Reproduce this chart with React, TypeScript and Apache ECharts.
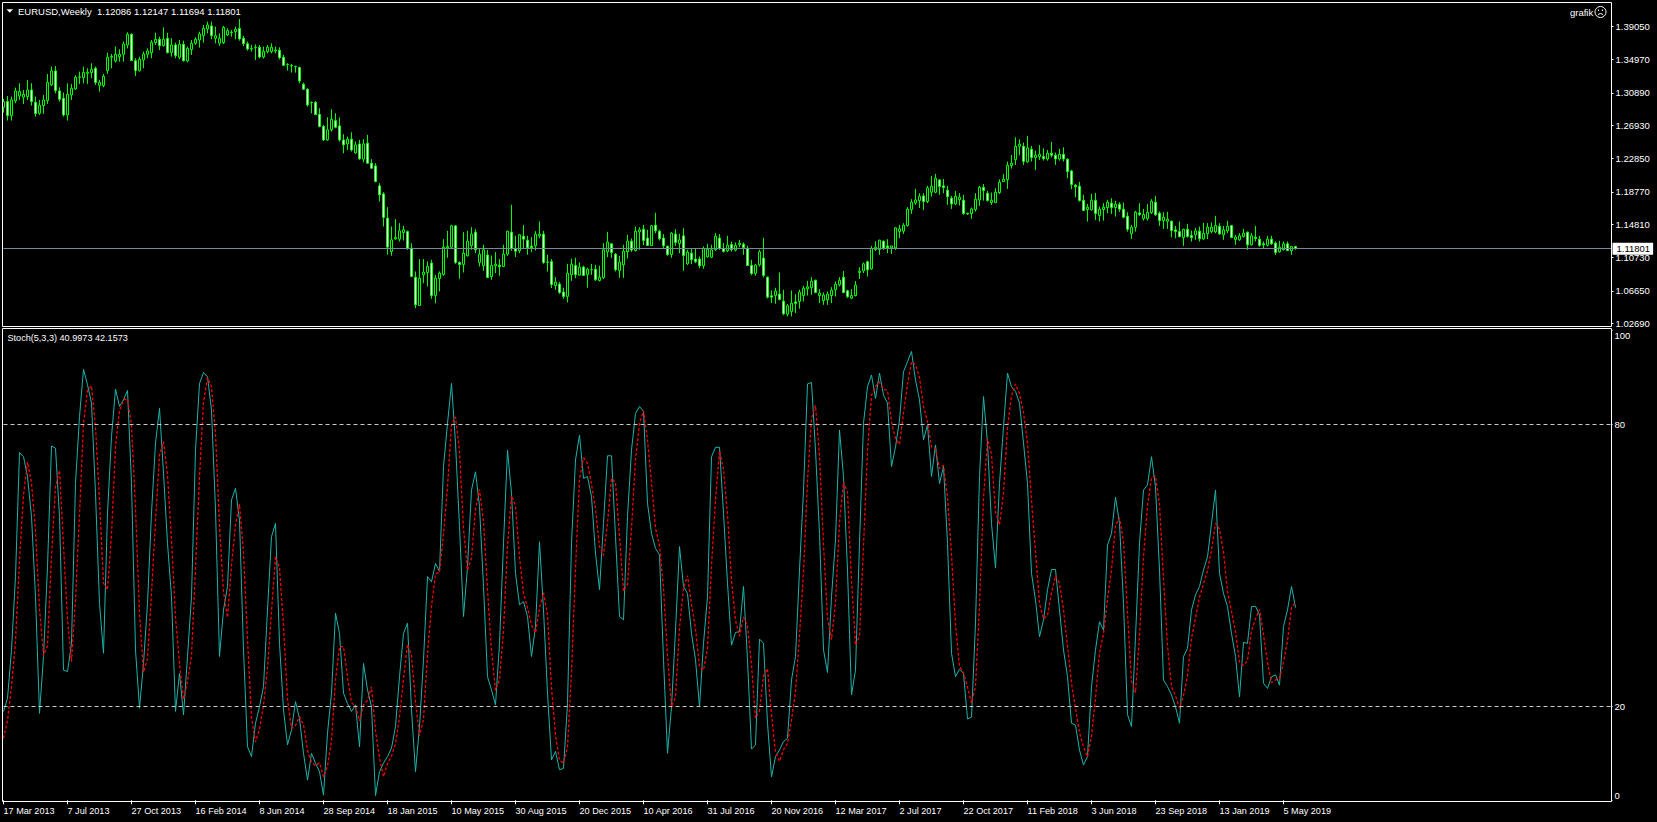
import React, { useEffect, useRef } from "react";
import * as echarts from "echarts";

// Weekly bars as [open, close, low, high]
const weeklyBars: number[][] = [
[1.2913,1.2983,1.2848,1.3015],[1.2983,1.2811,1.2750,1.3052],[1.2811,1.3003,1.2750,1.3044],[1.2991,1.3113,1.2962,1.3154],[1.3052,1.3105,1.3003,1.3207],[1.3036,1.3072,1.2954,1.3125],[1.3044,1.3125,1.3003,1.3248],[1.3125,1.2983,1.2934,1.3207],
[1.2974,1.2836,1.2799,1.3044],[1.2840,1.2938,1.2819,1.3003],[1.2934,1.3003,1.2832,1.3064],[1.2995,1.3219,1.2954,1.3321],[1.3187,1.3358,1.3174,1.3411],[1.3358,1.3117,1.3085,1.3419],[1.3113,1.3011,1.2983,1.3158],[1.3023,1.2819,1.2799,1.3093],
[1.2819,1.3072,1.2750,1.3207],[1.3064,1.3146,1.3003,1.3199],[1.3138,1.3280,1.3125,1.3305],[1.3281,1.3285,1.3199,1.3350],[1.3276,1.3338,1.3207,1.3411],[1.3329,1.3342,1.3199,1.3391],[1.3338,1.3378,1.3268,1.3452],[1.3391,1.3215,1.3187,1.3411],
[1.3183,1.3219,1.3105,1.3248],[1.3178,1.3293,1.3158,1.3321],[1.3362,1.3525,1.3321,1.3582],[1.3525,1.3537,1.3391,1.3566],[1.3480,1.3562,1.3460,1.3656],[1.3533,1.3562,1.3472,1.3623],[1.3562,1.3688,1.3472,1.3717],[1.3676,1.3807,1.3635,1.3831],
[1.3807,1.3484,1.3480,1.3819],[1.3484,1.3362,1.3297,1.3513],[1.3362,1.3501,1.3350,1.3533],[1.3493,1.3566,1.3391,1.3595],[1.3562,1.3603,1.3513,1.3635],[1.3582,1.3709,1.3513,1.3737],[1.3705,1.3746,1.3676,1.3827],[1.3746,1.3668,1.3615,1.3778],
[1.3668,1.3746,1.3656,1.3892],[1.3758,1.3582,1.3574,1.3827],[1.3586,1.3676,1.3533,1.3758],[1.3676,1.3546,1.3513,1.3705],[1.3525,1.3684,1.3501,1.3737],[1.3684,1.3484,1.3472,1.3729],[1.3480,1.3635,1.3464,1.3656],[1.3619,1.3697,1.3554,1.3737],
[1.3697,1.3746,1.3676,1.3770],[1.3737,1.3811,1.3644,1.3839],[1.3790,1.3880,1.3705,1.3921],[1.3872,1.3921,1.3819,1.3962],[1.3909,1.3790,1.3746,1.3962],[1.3758,1.3790,1.3697,1.3901],[1.3697,1.3758,1.3664,1.3819],[1.3705,1.3892,1.3688,1.3909],
[1.3799,1.3852,1.3786,1.3880],[1.3829,1.3833,1.3778,1.3860],[1.3839,1.3868,1.3746,1.3901],[1.3880,1.3750,1.3729,1.3994],[1.3758,1.3692,1.3664,1.3786],[1.3692,1.3627,1.3607,1.3717],[1.3631,1.3627,1.3595,1.3676],[1.3648,1.3644,1.3493,1.3684],
[1.3648,1.3529,1.3513,1.3676],[1.3529,1.3599,1.3509,1.3656],[1.3595,1.3648,1.3574,1.3676],[1.3595,1.3648,1.3574,1.3697],[1.3603,1.3615,1.3574,1.3656],[1.3611,1.3521,1.3501,1.3648],[1.3525,1.3427,1.3419,1.3554],[1.3440,1.3436,1.3362,1.3452],
[1.3423,1.3419,1.3338,1.3444],[1.3413,1.3409,1.3338,1.3423],[1.3399,1.3236,1.3207,1.3411],[1.3195,1.3134,1.3125,1.3215],[1.3134,1.2942,1.2921,1.3146],[1.2972,1.2968,1.2840,1.2983],[1.2974,1.2823,1.2819,1.2991],[1.2827,1.2677,1.2668,1.2901],
[1.2677,1.2513,1.2501,1.2697],[1.2513,1.2636,1.2501,1.2791],[1.2636,1.2766,1.2615,1.2889],[1.2750,1.2668,1.2656,1.2840],[1.2685,1.2513,1.2493,1.2787],[1.2513,1.2452,1.2350,1.2583],[1.2464,1.2522,1.2391,1.2554],[1.2522,1.2391,1.2371,1.2607],
[1.2354,1.2452,1.2342,1.2493],[1.2464,1.2281,1.2269,1.2513],[1.2277,1.2464,1.2236,1.2522],[1.2473,1.2228,1.2220,1.2575],[1.2228,1.2167,1.2158,1.2277],[1.2195,1.2003,1.1995,1.2228],[1.1950,1.1840,1.1759,1.1983],[1.1852,1.1563,1.1453,1.1873],
[1.1555,1.1200,1.1106,1.1689],[1.1147,1.1289,1.1094,1.1453],[1.1302,1.1318,1.1289,1.1542],[1.1298,1.1400,1.1269,1.1493],[1.1379,1.1412,1.1281,1.1461],[1.1391,1.1187,1.1167,1.1404],[1.1187,1.0840,1.0832,1.1248],[1.0832,1.0494,1.0453,1.0902],
[1.0485,1.0820,1.0481,1.1053],[1.0861,1.0893,1.0759,1.1053],[1.0889,1.0963,1.0718,1.1024],[1.1004,1.0608,1.0567,1.1044],[1.0608,1.0820,1.0514,1.0861],[1.0816,1.0881,1.0657,1.0902],[1.0865,1.1199,1.0849,1.1297],[1.1191,1.1208,1.1069,1.1399],
[1.1199,1.1461,1.1175,1.1473],[1.1461,1.1012,1.0995,1.1465],[1.1012,1.0987,1.0812,1.1024],[1.0987,1.1126,1.0889,1.1383],[1.1093,1.1273,1.1085,1.1399],[1.1216,1.1359,1.1167,1.1444],[1.1383,1.1167,1.1126,1.1420],[1.1012,1.1114,1.0963,1.1179],
[1.0971,1.1167,1.0910,1.1228],[1.1102,1.0828,1.0820,1.1167],[1.0840,1.0975,1.0800,1.1097],[1.0971,1.0991,1.0881,1.1138],[1.0979,1.0959,1.0849,1.1053],[1.0963,1.1114,1.0955,1.1228],[1.1114,1.1395,1.1093,1.1399],[1.1383,1.1179,1.1155,1.1718],
[1.1183,1.1150,1.1077,1.1338],[1.1155,1.1350,1.1126,1.1359],[1.1334,1.1297,1.1179,1.1469],[1.1285,1.1191,1.1106,1.1338],[1.1212,1.1191,1.1138,1.1322],[1.1216,1.1359,1.1159,1.1395],[1.1338,1.1359,1.1310,1.1514],[1.1359,1.1012,1.0995,1.1399],
[1.1018,1.1014,1.0902,1.1106],[1.1024,1.0742,1.0698,1.1053],[1.0730,1.0771,1.0677,1.0832],[1.0747,1.0645,1.0628,1.0771],[1.0649,1.0596,1.0567,1.0702],[1.0596,1.0881,1.0522,1.0995],[1.0861,1.0991,1.0787,1.1057],[1.0975,1.0861,1.0820,1.1069],
[1.0857,1.0955,1.0849,1.1012],[1.0955,1.0853,1.0849,1.0971],[1.0865,1.0930,1.0702,1.0946],[1.0924,1.0922,1.0861,1.0995],[1.0930,1.0800,1.0787,1.0983],[1.0791,1.0832,1.0779,1.0971],[1.0828,1.1167,1.0808,1.1248],[1.1142,1.1261,1.1077,1.1387],
[1.1240,1.1134,1.1069,1.1248],[1.1114,1.0922,1.0902,1.1126],[1.0914,1.1016,1.0824,1.1093],[1.0983,1.1150,1.0824,1.1228],[1.1142,1.1273,1.1061,1.1350],[1.1273,1.1163,1.1142,1.1306],[1.1159,1.1395,1.1146,1.1452],[1.1387,1.1412,1.1167,1.1444],
[1.1420,1.1281,1.1224,1.1473],[1.1310,1.1220,1.1216,1.1412],[1.1220,1.1461,1.1216,1.1473],[1.1469,1.1399,1.1371,1.1620],[1.1395,1.1301,1.1281,1.1412],[1.1310,1.1216,1.1187,1.1359],[1.1212,1.1110,1.1093,1.1216],[1.1110,1.1371,1.1069,1.1383],
[1.1359,1.1257,1.1216,1.1420],[1.1244,1.1289,1.1126,1.1363],[1.1338,1.1097,1.0910,1.1432],[1.0995,1.1138,1.0983,1.1167],[1.1126,1.1044,1.0991,1.1187],[1.1053,1.1020,1.1004,1.1179],[1.1053,1.0971,1.0942,1.1085],[1.0971,1.1183,1.0934,1.1208],
[1.1081,1.1175,1.1073,1.1240],[1.1077,1.1167,1.1065,1.1228],[1.1167,1.1334,1.1155,1.1371],[1.1310,1.1183,1.1167,1.1359],[1.1183,1.1146,1.1134,1.1248],[1.1155,1.1224,1.1138,1.1338],[1.1232,1.1167,1.1146,1.1269],[1.1163,1.1220,1.1146,1.1257],
[1.1232,1.1248,1.1199,1.1289],[1.1236,1.1195,1.1106,1.1257],[1.1187,1.0975,1.0971,1.1216],[1.0975,1.0877,1.0857,1.1044],[1.0877,1.0979,1.0849,1.0995],[1.0983,1.1142,1.0963,1.1167],[1.1065,1.0853,1.0828,1.1314],[1.0832,1.0587,1.0571,1.0840],
[1.0603,1.0587,1.0514,1.0669],[1.0608,1.0661,1.0506,1.0702],[1.0624,1.0559,1.0547,1.0889],[1.0538,1.0383,1.0367,1.0677],[1.0379,1.0481,1.0351,1.0502],[1.0412,1.0514,1.0351,1.0669],[1.0530,1.0510,1.0392,1.0624],[1.0534,1.0649,1.0445,1.0677],
[1.0607,1.0697,1.0534,1.0726],[1.0689,1.0713,1.0607,1.0787],[1.0705,1.0783,1.0616,1.0832],[1.0795,1.0644,1.0636,1.0799],[1.0607,1.0636,1.0514,1.0685],[1.0546,1.0612,1.0493,1.0644],[1.0554,1.0624,1.0493,1.0656],[1.0607,1.0673,1.0514,1.0709],
[1.0677,1.0746,1.0595,1.0779],[1.0738,1.0795,1.0718,1.0832],[1.0832,1.0644,1.0636,1.0909],[1.0665,1.0591,1.0575,1.0677],[1.0575,1.0607,1.0563,1.0685],[1.0607,1.0734,1.0595,1.0783],[1.0889,1.0905,1.0811,1.0954],[1.0909,1.0995,1.0881,1.1011],
[1.1020,1.0922,1.0840,1.1036],[1.0934,1.1183,1.0922,1.1215],[1.1170,1.1199,1.1154,1.1272],[1.1170,1.1285,1.1105,1.1289],[1.1272,1.1187,1.1166,1.1281],[1.1215,1.1191,1.1126,1.1297],[1.1191,1.1215,1.1117,1.1215],[1.1191,1.1436,1.1166,1.1444],
[1.1391,1.1423,1.1309,1.1472],[1.1395,1.1468,1.1362,1.1493],[1.1464,1.1664,1.1452,1.1689],[1.1660,1.1750,1.1607,1.1787],[1.1742,1.1778,1.1717,1.1913],[1.1770,1.1823,1.1680,1.1860],[1.1827,1.1758,1.1656,1.1860],[1.1758,1.1925,1.1738,1.1950],
[1.1872,1.1946,1.1819,1.2072],[1.1872,1.2044,1.1860,1.2097],[1.2023,1.1942,1.1840,1.2031],[1.1950,1.1929,1.1860,1.2035],[1.1897,1.1819,1.1717,1.1950],[1.1799,1.1729,1.1668,1.1827],[1.1729,1.1823,1.1717,1.1889],[1.1782,1.1811,1.1709,1.1860],
[1.1774,1.1611,1.1595,1.1840],[1.1615,1.1607,1.1595,1.1619],[1.1611,1.1668,1.1546,1.1685],[1.1660,1.1787,1.1636,1.1860],[1.1778,1.1933,1.1705,1.1950],[1.1933,1.1893,1.1770,1.1974],[1.1860,1.1770,1.1758,1.1889],[1.1746,1.1774,1.1717,1.1868],
[1.1746,1.1872,1.1738,1.1921],[1.1868,1.1995,1.1852,1.2031],[1.2003,1.2031,1.2003,1.2093],[1.2027,1.2203,1.1913,1.2248],[1.2199,1.2227,1.2162,1.2329],[1.2272,1.2435,1.2207,1.2545],[1.2435,1.2460,1.2325,1.2521],[1.2435,1.2248,1.2207,1.2480],
[1.2244,1.2415,1.2235,1.2562],[1.2399,1.2297,1.2248,1.2439],[1.2297,1.2325,1.2146,1.2382],[1.2309,1.2337,1.2268,1.2452],[1.2309,1.2284,1.2260,1.2411],[1.2280,1.2350,1.2260,1.2390],[1.2350,1.2325,1.2301,1.2488],[1.2325,1.2280,1.2207,1.2358],
[1.2280,1.2337,1.2260,1.2403],[1.2337,1.2280,1.2248,1.2423],[1.2276,1.2125,1.2044,1.2288],[1.2133,1.1966,1.1909,1.2146],[1.1958,1.1938,1.1811,1.1974],[1.1946,1.1770,1.1758,1.1999],[1.1774,1.1648,1.1640,1.1840],[1.1660,1.1689,1.1513,1.1729],
[1.1656,1.1774,1.1648,1.1852],[1.1774,1.1611,1.1534,1.1864],[1.1587,1.1664,1.1513,1.1697],[1.1660,1.1689,1.1525,1.1738],[1.1685,1.1750,1.1615,1.1778],[1.1738,1.1685,1.1607,1.1799],[1.1685,1.1725,1.1574,1.1766],[1.1725,1.1664,1.1632,1.1750],
[1.1664,1.1566,1.1554,1.1746],[1.1578,1.1419,1.1391,1.1627],[1.1366,1.1444,1.1301,1.1472],[1.1444,1.1627,1.1391,1.1644],[1.1619,1.1599,1.1583,1.1738],[1.1550,1.1599,1.1525,1.1668],[1.1550,1.1627,1.1525,1.1729],[1.1623,1.1762,1.1607,1.1787],
[1.1750,1.1595,1.1583,1.1827],[1.1615,1.1525,1.1460,1.1636],[1.1525,1.1566,1.1423,1.1627],[1.1517,1.1542,1.1423,1.1632],[1.1517,1.1403,1.1321,1.1525],[1.1411,1.1391,1.1309,1.1460],[1.1391,1.1330,1.1317,1.1513],[1.1317,1.1419,1.1215,1.1423],
[1.1419,1.1330,1.1317,1.1485],[1.1342,1.1317,1.1268,1.1403],[1.1350,1.1399,1.1289,1.1436],[1.1395,1.1301,1.1268,1.1452],[1.1301,1.1366,1.1289,1.1497],[1.1362,1.1444,1.1297,1.1493],[1.1391,1.1444,1.1370,1.1501],[1.1387,1.1464,1.1370,1.1583],
[1.1456,1.1362,1.1350,1.1493],[1.1350,1.1411,1.1289,1.1460],[1.1399,1.1456,1.1371,1.1521],[1.1464,1.1318,1.1309,1.1472],[1.1293,1.1322,1.1228,1.1350],[1.1289,1.1338,1.1277,1.1371],[1.1330,1.1371,1.1318,1.1424],[1.1383,1.1228,1.1167,1.1391],
[1.1228,1.1338,1.1220,1.1371],[1.1322,1.1305,1.1269,1.1460],[1.1297,1.1220,1.1207,1.1338],[1.1240,1.1228,1.1179,1.1269],[1.1224,1.1297,1.1207,1.1338],[1.1297,1.1240,1.1228,1.1338],[1.1248,1.1134,1.1105,1.1269],[1.1142,1.1199,1.1134,1.1277],
[1.1167,1.1240,1.1158,1.1269],[1.1240,1.1158,1.1150,1.1269],[1.1158,1.1207,1.1105,1.1215],[1.12086,1.11801,1.11694,1.12147],
];

const stochMain: number[] = [
18.9,21.7,32,47.6,74,73.1,68.9,60.4,43.3,18.5,30.6,49.7,75.4,74.9,60.4,27.7,
27.4,33.4,67.4,81.6,91.7,88.4,84.5,65.3,41.9,31.3,61.1,77.4,87.5,83.8,85.2,87.2,
67.4,32,19.6,29.1,41.9,61.1,76,83.4,69.6,54.7,43.3,18.9,27,18.2,30.6,43.3,
74.5,88.7,91,90.1,83,61.8,30.6,40.5,45.5,63.9,66.4,59.6,32,11.4,9.3,16.4,
19.9,24.2,40.5,56.1,58.9,33.4,19.2,11.8,15,21,17.4,10,4.3,10,7.9,6.1,
1.1,14.3,22.8,39.8,35.5,22.8,20.6,18.9,20.3,11.4,29.1,23.5,19.9,1,6.1,7.9,
9.3,11.1,15.7,26.3,35.5,37.7,19.2,6.1,15.7,29.9,47.6,46.5,50.4,48.7,71,80.2,
88.7,76,58.2,39.1,49.7,66,69.9,62.5,45.5,26.3,23.5,20.3,33.4,54.7,74.5,65.3,
48.3,41.6,42.3,39.1,30.6,37,55,40.5,22.8,8.6,10.4,6.5,6.8,20.6,54.7,72.4,
77.7,68.5,68.9,64.6,52.6,44.8,58.9,73.3,73.3,56.1,39.1,38.4,60.4,74.5,82.3,83.8,
82.7,63.2,56.8,53.6,52.2,29.9,10,19.9,36.2,54,45.5,44,35.5,29.9,19.9,33.4,
43.3,73.1,75.1,75.1,61.1,46.2,33,35.7,35.9,45.5,29.9,10.9,11.8,34.3,33.4,16.4,
5,9.3,10.7,12.5,13.2,25.6,30.6,49,66,88.6,88.9,74.5,56.8,32,27.2,43.3,
55.4,78.8,68.9,49,22.4,27.7,54.7,80.2,88,90.5,85.5,90.9,86.2,84.5,71,75.2,
80.9,91.2,93.3,95.5,89.4,85.2,76.7,79.9,68.9,75.6,67.4,71,54.7,31.3,26.3,27.9,
27,17.3,17.7,37.7,68.9,85.9,76,58.9,49.4,67.4,79.5,90.9,88,87,84.5,76,
67.4,48.3,42.6,34.8,38.4,44.8,49.1,49.1,40.5,32,26.3,16.4,16,10.7,7.5,9.3,
24.2,32,38,36.2,54.3,56.8,64.5,58.9,41.9,18.2,15.7,34.8,54.7,66,67.1,73.1,
66.7,49,25.6,24.2,22.4,19.9,16.4,30.6,32.3,40.5,43.7,45.5,49,51.8,58.9,66,
48.3,44,41.2,35.5,30.6,22,33.6,33.4,41.2,41.3,39.4,24.9,23.8,26.3,26.7,24.5,
37,40.5,45.5,40.9973,
];

const stochSignal: number[] = [
13.2,17,24.2,33.8,51.2,64.9,72,67.5,57.5,40.7,30.8,32.9,51.9,66.7,70.2,54.3,
38.5,29.5,42.7,60.8,80.2,87.2,88.2,79.4,64,46.2,44.8,56.6,75.3,82.9,85.2,85.4,
79.9,62.2,39.7,27.2,30.2,44,59.3,73.5,76.3,69.2,55.5,38.9,29.2,21.4,25.3,30.7,
49.5,68.8,84.7,89.9,88,78,58.5,44.3,38.9,50,58.6,63,52.7,34.3,17.6,12.4,
15.2,20.2,28.2,40.3,51.8,49.5,37.2,21.5,15.3,15.9,17.8,16.1,10.6,8.1,7.4,8,
5,7.2,12.7,25.6,32.7,32.7,26.3,20.8,19.9,16.9,20.3,21.3,24.2,14.8,9,5,
7.8,9.4,12,17.7,25.8,33.2,30.8,21,13.7,17.2,31.1,41.3,48.2,48.5,56.7,66.6,
80,81.6,74.3,57.8,49,51.6,61.9,66.1,59.3,44.8,31.8,23.4,25.7,36.1,54.2,64.8,
62.7,51.7,44.1,41,37.3,35.6,40.9,44.2,39.4,24,13.9,8.5,7.9,11.3,27.4,49.2,
68.3,72.9,71.7,67.3,62,54,52.1,59,68.5,67.6,56.2,44.5,46,57.8,72.4,80.2,
82.9,76.6,67.6,57.9,54.2,45.2,30.7,19.9,22,36.7,45.2,47.8,41.7,36.5,28.4,27.7,
32.2,49.9,63.8,74.4,70.4,60.8,46.8,38.3,34.9,39,37.1,28.8,17.5,19,26.5,28,
18.3,10.2,8.3,10.8,12.1,17.1,23.1,35.1,48.5,67.9,81.2,84,73.4,54.4,38.7,34.2,
42,59.2,67.7,65.6,46.8,33,34.9,54.2,74.3,86.2,88,89,87.5,87.2,80.6,76.9,
75.7,82.4,88.5,93.3,92.7,90,83.8,80.6,75.2,74.8,70.6,71.3,64.4,52.3,37.4,28.5,
27.1,24.1,20.7,24.2,41.4,64.2,76.9,73.6,61.4,58.6,65.4,79.3,86.1,88.6,86.5,82.5,
76,63.9,52.8,41.9,38.6,39.3,44.1,47.7,46.2,40.5,32.9,24.9,19.6,14.4,11.4,9.2,
13.7,21.8,31.4,35.4,42.8,49.1,58.5,60.1,55.1,39.7,25.3,22.9,35.1,51.8,62.6,68.7,
69,63,47.1,32.9,24.1,22.2,19.6,22.3,26.4,34.5,38.8,43.2,46.1,48.8,53.2,58.9,
57.7,52.8,44.5,40.2,35.8,29.4,28.7,29.7,36.1,38.6,40.6,35.2,29.4,25,25.6,25.8,
29.4,34,41,42.1573,
];

const dateLabels = [
  "17 Mar 2013","7 Jul 2013","27 Oct 2013","16 Feb 2014","8 Jun 2014","28 Sep 2014","18 Jan 2015",
  "10 May 2015","30 Aug 2015","20 Dec 2015","10 Apr 2016","31 Jul 2016","20 Nov 2016","12 Mar 2017",
  "2 Jul 2017","22 Oct 2017","11 Feb 2018","3 Jun 2018","23 Sep 2018","13 Jan 2019","5 May 2019",
];
const priceTicks = [1.0269,1.0665,1.1073,1.1481,1.1877,1.2285,1.2693,1.3089,1.3497,1.3905];
const stochTicks = [0,20,80,100];
const stochLevels = [80,20];
const lastPrice = 1.11801;
const titleText = "EURUSD,Weekly  1.12086 1.12147 1.11694 1.11801";
const stochText = "Stoch(5,3,3) 40.9973 42.1573";

const SLOTS = 403;
const WEEKS_PER_LABEL = 16;
const categories = Array.from({ length: SLOTS }, (_, i) =>
  i % WEEKS_PER_LABEL === 0 ? dateLabels[i / WEEKS_PER_LABEL] ?? "" : ""
);
const FONT = "Liberation Sans";
const FS = 9.5;
const FS_NARROW = 9.1;
const hasLabel = (_: number, v: string) => v !== "";

export default function App() {
  const ref = useRef<HTMLDivElement>(null);
  useEffect(() => {
    document.body.style.margin = "0";
    document.body.style.background = "#000";
    document.body.style.overflow = "hidden";
    const chart = echarts.init(ref.current!, undefined, { renderer: "svg" });
    const label = (text: string, x: number, y: number, size: number) => ({
      type: "text", x, y, silent: true, z: 20,
      style: { text, fill: "#ffffff", font: `${size}px "${FONT}"`, verticalAlign: "middle" },
    });
    chart.setOption({
      animation: false,
      backgroundColor: "#000000",
      grid: [
        { left: 1.5, top: 3, width: SLOTS * 4, height: 323 },
        { left: 1.5, top: 330.3, width: SLOTS * 4, height: 470 },
      ],
      xAxis: [
        { type: "category", gridIndex: 0, data: categories, boundaryGap: true, axisLine: { show: false }, axisTick: { show: false }, axisLabel: { show: false }, splitLine: { show: false } },
        {
          type: "category", gridIndex: 1, data: categories, boundaryGap: true, axisLine: { show: false },
          axisTick: { show: true, alignWithLabel: true, interval: hasLabel, length: 4, lineStyle: { color: "#ffffff" } },
          axisLabel: { show: true, interval: hasLabel, align: "left", margin: 6, color: "#ffffff", fontFamily: FONT, fontSize: FS_NARROW, hideOverlap: false },
          splitLine: { show: false },
        },
      ],
      yAxis: [
        {
          type: "value", gridIndex: 0, position: "right", offset: -2, min: 1.02335, max: 1.41903, scale: true,
          axisLine: { show: false }, splitLine: { show: false },
          axisTick: { show: true, length: 2, customValues: priceTicks, lineStyle: { color: "#ffffff" } },
          axisLabel: { show: true, customValues: priceTicks, margin: 4, color: "#ffffff", fontFamily: FONT, fontSize: FS, formatter: (v: number) => v.toFixed(5) },
        },
        {
          type: "value", gridIndex: 1, position: "right", offset: -2, min: 0, max: 100,
          axisLine: { show: false }, splitLine: { show: false },
          axisTick: { show: true, length: 1, customValues: stochTicks, lineStyle: { color: "#ffffff" } },
          axisLabel: { show: true, customValues: stochTicks, margin: 3, color: "#ffffff", fontFamily: FONT, fontSize: FS, verticalAlignMinLabel: "bottom", verticalAlignMaxLabel: "top" },
        },
      ],
      series: [
        {
          type: "candlestick", xAxisIndex: 0, yAxisIndex: 0, data: weeklyBars, barWidth: 3,
          itemStyle: { color: "#000000", color0: "#ffffff", borderColor: "#00ff00", borderColor0: "#00ff00", borderWidth: 1 },
          markLine: {
            silent: true, symbol: "none", animation: false,
            lineStyle: { color: "#778899", width: 1, type: "solid" },
            label: { show: true, position: "end", distance: 1, formatter: lastPrice.toFixed(5), color: "#000000", backgroundColor: "#ffffff", fontFamily: FONT, fontSize: FS, padding: [1, 3, 1, 4] },
            data: [[{ coord: [0, lastPrice] }, { coord: [SLOTS - 1, lastPrice] }]],
          },
        },
        {
          type: "line", xAxisIndex: 1, yAxisIndex: 1, data: stochMain, showSymbol: false, symbol: "none",
          lineStyle: { color: "#20B2AA", width: 1 },
          markLine: {
            silent: true, symbol: "none", animation: false,
            lineStyle: { color: "#c8c8c8", width: 1, type: [4, 3] },
            label: { show: false },
            data: stochLevels.map((v) => [{ coord: [0, v] }, { coord: [SLOTS - 1, v] }]),
          },
        },
        {
          type: "line", xAxisIndex: 1, yAxisIndex: 1, data: stochSignal, showSymbol: false, symbol: "none",
          lineStyle: { color: "#ff0000", width: 1.25, type: [3, 2] },
        },
      ],
      graphic: [
        { type: "rect", silent: true, z: 15, shape: { x: 2.5, y: 2.5, width: 1609, height: 324 }, style: { fill: "transparent", stroke: "#ffffff", lineWidth: 1 } },
        { type: "rect", silent: true, z: 15, shape: { x: 2.5, y: 328.5, width: 1609, height: 473 }, style: { fill: "transparent", stroke: "#ffffff", lineWidth: 1 } },
        { type: "polygon", silent: true, z: 20, shape: { points: [[6.5, 9.3], [13, 9.3], [9.75, 12.8]] }, style: { fill: "#ffffff" } },
        label(titleText, 18, 11, FS),
        label("grafik", 1570, 12.5, FS),
        label(stochText, 7.5, 337.5, FS_NARROW),
        { type: "circle", silent: true, z: 20, shape: { cx: 1600.5, cy: 12, r: 5.5 }, style: { fill: "transparent", stroke: "#ffffff", lineWidth: 1 } },
        { type: "circle", silent: true, z: 20, shape: { cx: 1598.5, cy: 10.2, r: 0.7 }, style: { fill: "#ffffff" } },
        { type: "circle", silent: true, z: 20, shape: { cx: 1602.5, cy: 10.2, r: 0.7 }, style: { fill: "#ffffff" } },
        { type: "arc", silent: true, z: 20, shape: { cx: 1600.5, cy: 17, r: 3.4, startAngle: Math.PI * 1.2, endAngle: Math.PI * 1.8 }, style: { fill: "none", stroke: "#ffffff", lineWidth: 1 } },
      ],
    });
    return () => chart.dispose();
  }, []);
  return <div ref={ref} style={{ width: 1657, height: 822, background: "#000" }} />;
}
